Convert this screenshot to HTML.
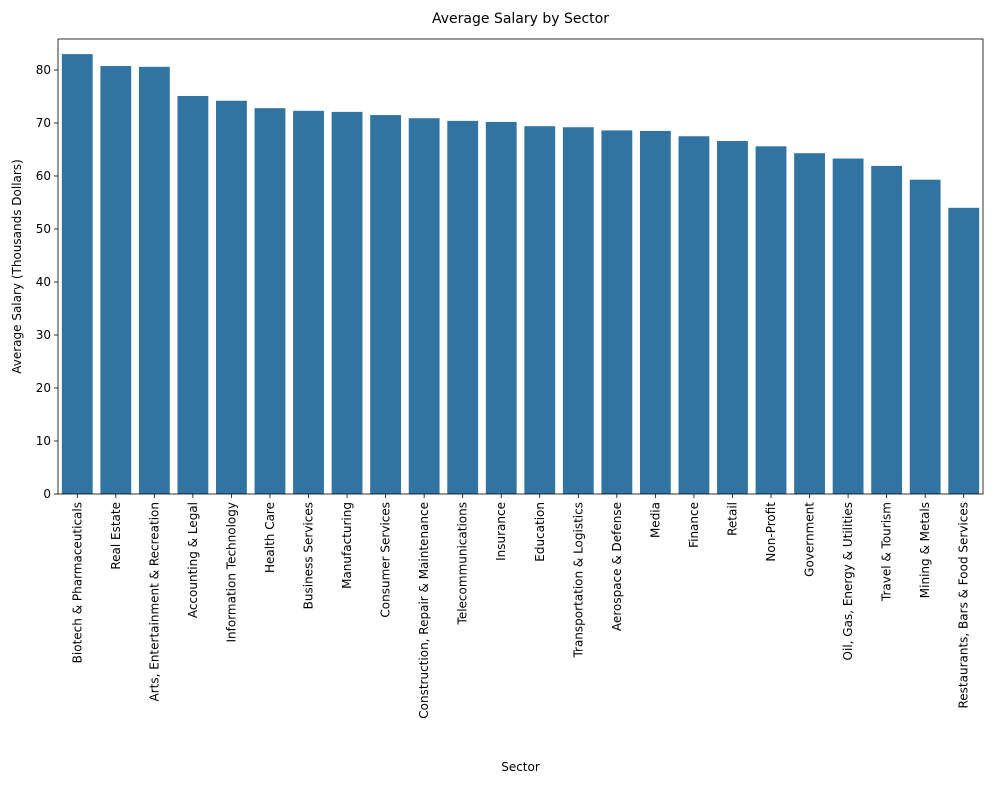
<!DOCTYPE html>
<html><head><meta charset="utf-8"><style>
body{margin:0;background:#fff;}
svg text{font-family:"DejaVu Sans","Liberation Sans",sans-serif;fill:#000;}
</style></head><body>
<svg id="chart" width="996" height="784" xmlns="http://www.w3.org/2000/svg">
<rect width="996" height="784" fill="#fff"/>
<g id="plot"></g>
</svg>
<script>
const categories=["Biotech & Pharmaceuticals","Real Estate","Arts, Entertainment & Recreation","Accounting & Legal","Information Technology","Health Care","Business Services","Manufacturing","Consumer Services","Construction, Repair & Maintenance","Telecommunications","Insurance","Education","Transportation & Logistics","Aerospace & Defense","Media","Finance","Retail","Non-Profit","Government","Oil, Gas, Energy & Utilities","Travel & Tourism","Mining & Metals","Restaurants, Bars & Food Services"];
const values=[83.0,80.75,80.6,75.1,74.2,72.8,72.3,72.1,71.5,70.9,70.4,70.2,69.4,69.2,68.6,68.5,67.5,66.6,65.6,64.3,63.3,61.9,59.3,54.0];
const yTicks=[0,10,20,30,40,50,60,70,80];
const L=58,R=983,T=39,B=494,yMax=85.85;
const NS="http://www.w3.org/2000/svg";
const g=document.getElementById('plot');
function y(v){return B-(B-T)*v/yMax;}
const step=(R-L)/categories.length;
function xc(i){return L+step*(i+0.5);}
function mk(t,a,p){const e=document.createElementNS(NS,t);for(const k in a)e.setAttribute(k,a[k]);(p||g).appendChild(e);return e;}
categories.forEach((c,i)=>{
 const bw=step*0.8;
 const r=mk('rect',{x:xc(i)-bw/2,y:y(values[i]),width:bw,height:B-y(values[i]),fill:'#3274a1'});
 
 
 mk('line',{x1:xc(i),x2:xc(i),y1:B,y2:B+4,stroke:'#000','stroke-width':0.8});
 const t=mk('text',{x:0,y:0,'font-size':12,'text-anchor':'end',transform:`translate(${xc(i)+4},${B+8}) rotate(-90)`});
 t.textContent=c;
 
 
});
yTicks.forEach(v=>{
 mk('line',{x1:L-4,x2:L,y1:y(v),y2:y(v),stroke:'#000','stroke-width':0.8});
 const t=mk('text',{x:L-7,y:y(v)+4,'font-size':12,'text-anchor':'end'});
 t.textContent=v;
 
 
});
const fr=mk('rect',{x:L,y:T,width:R-L,height:B-T,fill:'none',stroke:'#000','stroke-width':0.8});


const ti=mk('text',{x:(L+R)/2,y:23,'font-size':14,'text-anchor':'middle'});ti.textContent='Average Salary by Sector';


const xl=mk('text',{x:(L+R)/2,y:771,'font-size':12,'text-anchor':'middle'});xl.textContent='Sector';


const yl=mk('text',{x:0,y:0,'font-size':12,'text-anchor':'middle',transform:`translate(21,${(T+B)/2}) rotate(-90)`});yl.textContent='Average Salary (Thousands Dollars)';


</script>
</body></html>
